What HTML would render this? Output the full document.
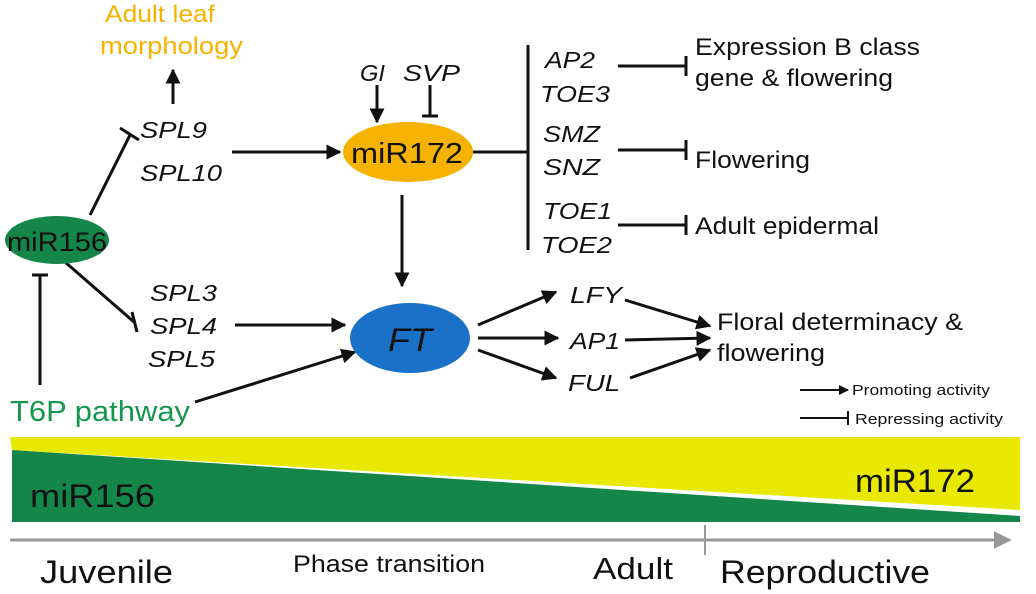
<!DOCTYPE html>
<html><head><meta charset="utf-8"><style>
html,body{margin:0;padding:0;background:#fff;}
svg{display:block;font-family:"Liberation Sans",Arial,sans-serif;}
</style></head><body>
<svg width="1036" height="594" viewBox="0 0 1036 594">
<defs>
<marker id="ah" viewBox="0 0 10 10" refX="9" refY="5" markerWidth="5" markerHeight="5" orient="auto"><path d="M0,0 L10,5 L0,10 z" fill="#111"/></marker>
<marker id="ahg" viewBox="0 0 10 10" refX="9" refY="5" markerWidth="6" markerHeight="6" orient="auto"><path d="M0,0 L10,5 L0,10 z" fill="#999"/></marker>
</defs>
<g stroke="#111" stroke-width="3" fill="none">
<line x1="173" y1="104" x2="173" y2="70" marker-end="url(#ah)"/>
<line x1="90" y1="215" x2="130" y2="135"/>
<line x1="120" y1="128" x2="139" y2="140"/>
<line x1="65" y1="262" x2="134" y2="322"/>
<line x1="132" y1="312" x2="137" y2="332"/>
<line x1="40" y1="385" x2="40" y2="275"/>
<line x1="32" y1="275" x2="48" y2="275"/>
<line x1="232" y1="152" x2="340" y2="152" marker-end="url(#ah)"/>
<line x1="377" y1="85" x2="377" y2="122" marker-end="url(#ah)"/>
<line x1="430" y1="85" x2="430" y2="116"/>
<line x1="422" y1="116" x2="438" y2="116"/>
<line x1="470" y1="152" x2="528" y2="152"/>
<line x1="528" y1="45" x2="528" y2="250"/>
<line x1="618" y1="66" x2="686" y2="66"/><line x1="686" y1="56" x2="686" y2="76"/>
<line x1="618" y1="150" x2="686" y2="150"/><line x1="686" y1="140" x2="686" y2="160"/>
<line x1="618" y1="225" x2="686" y2="225"/><line x1="686" y1="215" x2="686" y2="235"/>
<line x1="402" y1="195" x2="402" y2="286" marker-end="url(#ah)"/>
<line x1="235" y1="325" x2="345" y2="325" marker-end="url(#ah)"/>
<line x1="195" y1="402" x2="355" y2="352" marker-end="url(#ah)"/>
<line x1="478" y1="325" x2="556" y2="292" marker-end="url(#ah)"/>
<line x1="478" y1="338" x2="558" y2="338" marker-end="url(#ah)"/>
<line x1="478" y1="350" x2="556" y2="378" marker-end="url(#ah)"/>
<line x1="625" y1="300" x2="710" y2="326" marker-end="url(#ah)"/>
<line x1="625" y1="340" x2="710" y2="338" marker-end="url(#ah)"/>
<line x1="630" y1="378" x2="710" y2="350" marker-end="url(#ah)"/>
<line x1="800" y1="390" x2="848" y2="390" stroke-width="2" marker-end="url(#ah)"/>
<line x1="800" y1="418" x2="848" y2="418" stroke-width="2"/><line x1="848" y1="411" x2="848" y2="425" stroke-width="2"/>
</g>
<ellipse cx="57" cy="240" rx="52" ry="24" fill="#15864a"/>
<text x="7" y="251" font-size="27" textLength="100" lengthAdjust="spacingAndGlyphs" fill="#111">miR156</text>
<ellipse cx="408" cy="152" rx="65" ry="30" fill="#f5b300"/>
<text x="351" y="163" font-size="29" textLength="112" lengthAdjust="spacingAndGlyphs" fill="#111">miR172</text>
<ellipse cx="410" cy="338" rx="60" ry="35" fill="#1a72c8"/>
<text x="388" y="351" font-size="32" font-style="italic" textLength="44" lengthAdjust="spacingAndGlyphs" fill="#111">FT</text>
<g font-size="24" fill="#f5b300" lengthAdjust="spacingAndGlyphs">
<text x="105" y="22" textLength="110" lengthAdjust="spacingAndGlyphs">Adult leaf</text><text x="100" y="54" textLength="143" lengthAdjust="spacingAndGlyphs">morphology</text></g>
<g font-size="23" font-style="italic" fill="#111">
<text x="140" y="138" textLength="67" lengthAdjust="spacingAndGlyphs">SPL9</text><text x="140" y="181" textLength="82" lengthAdjust="spacingAndGlyphs">SPL10</text>
<text x="150" y="301" textLength="67" lengthAdjust="spacingAndGlyphs">SPL3</text><text x="150" y="334" textLength="67" lengthAdjust="spacingAndGlyphs">SPL4</text><text x="148" y="367" textLength="67" lengthAdjust="spacingAndGlyphs">SPL5</text>
<text x="360" y="81" textLength="25" lengthAdjust="spacingAndGlyphs">GI</text><text x="403" y="81" textLength="57" lengthAdjust="spacingAndGlyphs">SVP</text>
<text x="545" y="68" textLength="50" lengthAdjust="spacingAndGlyphs">AP2</text><text x="540" y="102" textLength="70" lengthAdjust="spacingAndGlyphs">TOE3</text>
<text x="543" y="142" textLength="57" lengthAdjust="spacingAndGlyphs">SMZ</text><text x="543" y="175" textLength="57" lengthAdjust="spacingAndGlyphs">SNZ</text>
<text x="543" y="219" textLength="69" lengthAdjust="spacingAndGlyphs">TOE1</text><text x="541" y="253" textLength="71" lengthAdjust="spacingAndGlyphs">TOE2</text>
<text x="570" y="303" textLength="52" lengthAdjust="spacingAndGlyphs">LFY</text><text x="570" y="349" textLength="50" lengthAdjust="spacingAndGlyphs">AP1</text><text x="568" y="391" textLength="52" lengthAdjust="spacingAndGlyphs">FUL</text></g>
<g font-size="24" fill="#111">
<text x="695" y="55" textLength="225" lengthAdjust="spacingAndGlyphs">Expression B class</text><text x="695" y="86" textLength="198" lengthAdjust="spacingAndGlyphs">gene &amp; flowering</text>
<text x="695" y="168" textLength="115" lengthAdjust="spacingAndGlyphs">Flowering</text><text x="695" y="234" textLength="184" lengthAdjust="spacingAndGlyphs">Adult epidermal</text>
<text x="717" y="330" textLength="246" lengthAdjust="spacingAndGlyphs">Floral determinacy &amp;</text><text x="717" y="361" textLength="108" lengthAdjust="spacingAndGlyphs">flowering</text></g>
<g font-size="15" fill="#111"><text x="852" y="395" textLength="138" lengthAdjust="spacingAndGlyphs">Promoting activity</text><text x="855" y="424" textLength="148" lengthAdjust="spacingAndGlyphs">Repressing activity</text></g>
<text x="10" y="421" font-size="29" fill="#15964e" textLength="180" lengthAdjust="spacingAndGlyphs">T6P pathway</text>
<polygon points="10,437 1020,437 1020,510 12,450" fill="#e8e800"/>
<polygon points="12,450 1020,516 1020,522 12,522" fill="#15864a"/>
<text x="30" y="507" font-size="32" fill="#111" textLength="125" lengthAdjust="spacingAndGlyphs">miR156</text>
<text x="855" y="492" font-size="32" fill="#111" textLength="120" lengthAdjust="spacingAndGlyphs">miR172</text>
<line x1="10" y1="540" x2="1010" y2="540" stroke="#999" stroke-width="3" marker-end="url(#ahg)"/>
<line x1="705" y1="525" x2="705" y2="555" stroke="#999" stroke-width="2"/>
<g fill="#111"><text x="40" y="583" font-size="32" textLength="133" lengthAdjust="spacingAndGlyphs">Juvenile</text>
<text x="293" y="572" font-size="24" textLength="192" lengthAdjust="spacingAndGlyphs">Phase transition</text>
<text x="593" y="579" font-size="31" textLength="80" lengthAdjust="spacingAndGlyphs">Adult</text>
<text x="720" y="583" font-size="32" textLength="210" lengthAdjust="spacingAndGlyphs">Reproductive</text></g>
</svg>
</body></html>
